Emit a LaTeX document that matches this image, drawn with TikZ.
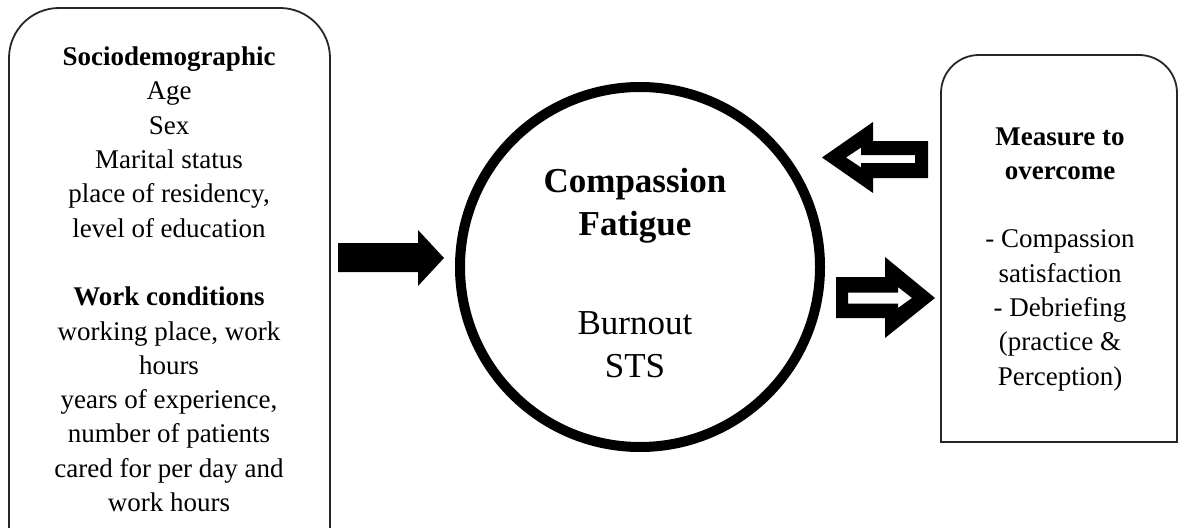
\documentclass[tikz,border=0pt]{standalone}
\usepackage{fontspec}
\setmainfont{Liberation Serif}

\begin{document}
\begin{tikzpicture}[scale=0.35146]
		\tikzstyle{every node}+=[inner sep=0pt]
		\tikzstyle{boxline}=[black!85, line width=1.8pt]
		\tikzstyle{boxtext}=[anchor=north, align=center, font=\fontsize{27}{34.3}\selectfont]
		\tikzstyle{cftext}=[anchor=north, align=center, font=\fontsize{35}{43.5}\selectfont]
		\useasboundingbox (0,0) rectangle (117.9,-52.8);
		\draw [boxline] (0.9,-52.8) -- (0.9,-5.8) arc (180:90:5) -- (28.0,-0.8) arc (90:0:5) -- (33.0,-52.8);
		\node [boxtext] (socio) at (16.9,-4.67) {\textbf{Sociodemographic}\\Age\\Sex\\Marital status\\place of residency,\\level of education\\[34.3pt]\textbf{Work conditions}\\working place, work\\hours\\years of experience,\\number of patients\\cared for per day and\\work hours};
		\node [circle, draw, line width=10pt, minimum size=360pt] (cf) at (64.0,-26.7) {};
		\node [cftext] (cflabel) at (63.5,-16.8) {\textbf{Compassion}\\\textbf{Fatigue}\\[55pt]Burnout\\STS};
		\draw [boxline] (94.1,-44.2) -- (94.1,-9.3) arc (180:90:3.8) -- (113.9,-5.5) arc (90:0:3.8) -- (117.7,-44.2) -- cycle;
		\node [boxtext] (measure) at (106.0,-12.72) {\textbf{Measure to}\\\textbf{overcome}\\[34.3pt]- Compassion\\satisfaction\\- Debriefing\\(practice \&\\Perception)};
		\fill [black] (33.8,-24.3) -- (41.8,-24.3) -- (41.8,-23.0) -- (44.4,-25.8) -- (41.8,-28.6) -- (41.8,-27.2) -- (33.8,-27.2) -- cycle;
		\fill [black, even odd rule] (92.8,-14.1) -- (87.3,-14.1) -- (87.3,-12.2) -- (82.2,-15.75) -- (87.3,-19.3) -- (87.3,-17.8) -- (92.8,-17.8) -- cycle
			(91.5,-15.5) -- (86.1,-15.5) -- (86.1,-14.75) -- (84.6,-15.75) -- (86.1,-16.75) -- (86.1,-16.3) -- (91.5,-16.3) -- cycle;
		\fill [black, even odd rule] (83.6,-27.7) -- (88.5,-27.7) -- (88.5,-25.7) -- (93.5,-29.8) -- (88.5,-33.8) -- (88.5,-31.8) -- (83.6,-31.8) -- cycle
			(84.8,-29.25) -- (89.8,-29.25) -- (89.8,-28.7) -- (91.2,-29.8) -- (89.8,-30.8) -- (89.8,-30.35) -- (84.8,-30.35) -- cycle;
\end{tikzpicture}
\end{document}
